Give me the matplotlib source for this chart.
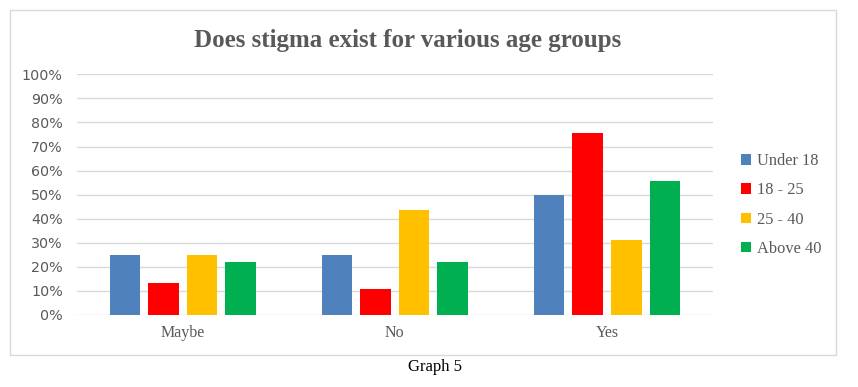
import numpy as np
import matplotlib
matplotlib.use("Agg")
import matplotlib.pyplot as plt
from matplotlib.patches import Rectangle

# ── Data ──────────────────────────────────────────────────────────────────────
categories = ["Maybe", "No", "Yes"]
groups = ["Under 18", "18 - 25", "25 - 40", "Above 40"]
under_18 = [25.0, 25.0, 50.0]
age_18_25 = [13.3, 11.0, 75.6]
age_25_40 = [25.0, 43.7, 31.2]
above_40 = [22.0, 22.0, 55.7]
series = [under_18, age_18_25, age_25_40, above_40]
colors = ["#4F81BD", "#FF0000", "#FFC000", "#00B050"]

GRID = "#D9D9D9"
TEXT = "#595959"

# ── Figure ────────────────────────────────────────────────────────────────────
fig = plt.figure(figsize=(8.58, 3.87), dpi=100)
W, H = 858, 387

# outer chart frame
fig.patches.append(Rectangle((10 / W, 1 - 355 / H), 826 / W, 345 / H,
                             transform=fig.transFigure, fill=False,
                             edgecolor=GRID, linewidth=1))

ax = fig.add_axes([76.7 / W, 1 - 315 / H, 636.3 / W, 240.7 / H])

x = np.arange(len(categories))
step = 0.182
width = 0.144
for i, (vals, col, lab) in enumerate(zip(series, colors, groups)):
    ax.bar(x + (i - 1.5) * step, vals, width=width, color=col, label=lab, zorder=3)

ax.set_xlim(-0.5, 2.5)
ax.set_ylim(0, 100)
ax.set_yticks(np.arange(0, 101, 10))
ax.set_yticklabels([f"{v}%" for v in range(0, 101, 10)],
                   fontsize=10.3, color=TEXT, family="DejaVu Sans")
ax.set_xticks(x)
ax.set_xticklabels(categories, fontsize=11.5, color=TEXT, family="Liberation Serif")
ax.tick_params(length=0)
ax.tick_params(axis="y", pad=10)
ax.tick_params(axis="x", pad=7)
ax.yaxis.grid(True, color=GRID, linewidth=1, zorder=0)
for s in ax.spines.values():
    s.set_visible(False)

fig.text(408 / W, 1 - 40 / H, "Does stigma exist for various age groups",
         ha="center", va="center", fontsize=18, fontweight="bold",
         color=TEXT, family="Liberation Serif")

ax.legend(loc="center left", bbox_to_anchor=(733 / W, 1 - 205 / H),
          bbox_transform=fig.transFigure, frameon=False,
          handlelength=0.6, handleheight=0.6, handletextpad=0.35,
          labelspacing=0.8, borderpad=0,
          prop={"family": "Liberation Serif", "size": 11.8},
          labelcolor=TEXT)

fig.text(435 / W, 1 - 367 / H, "Graph 5", ha="center", va="center",
         fontsize=12, color="black", family="Liberation Serif")

fig.savefig("out.png", dpi=100)
